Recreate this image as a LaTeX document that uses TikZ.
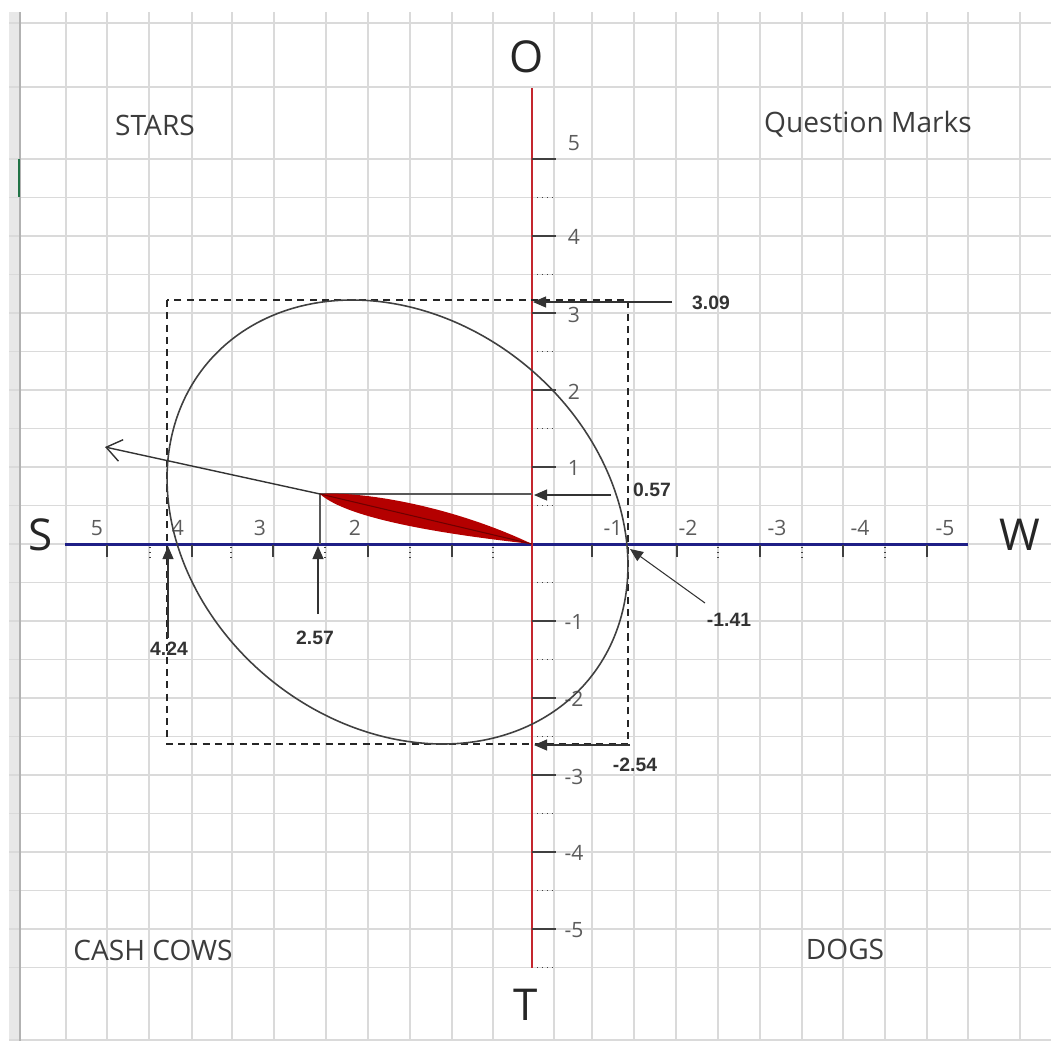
\documentclass[tikz,border=0pt]{standalone}
\usepackage{fontspec}
\setmainfont{Open Sans}
\newfontfamily\valfont{Liberation Sans}
\usetikzlibrary{arrows.meta}
\definecolor{gridc}{HTML}{DADADA}
\definecolor{bandc}{HTML}{E8E8E8}
\definecolor{axisred}{HTML}{C4262E}
\definecolor{axisblue}{HTML}{1F1F86}
\definecolor{leafred}{HTML}{B40000}
\definecolor{leafdark}{HTML}{6E0000}
\definecolor{ticktext}{HTML}{5C5C5C}
\definecolor{quadtext}{HTML}{3C3C3C}
\definecolor{xlgreen}{HTML}{217346}

\begin{document}
\begin{tikzpicture}[x=0.02cm, y=-0.02cm,
  gridline/.style={gridc, line width=0.9pt},
  quad/.style={font=\fontsize{16}{18}\selectfont, text=quadtext, inner sep=0pt},
  pole/.style={font=\fontsize{25}{27}\selectfont, text=black!85, inner sep=0pt},
  ticklab/.style={font=\fontsize{12}{14}\selectfont, text=ticktext, inner sep=0pt},
  val/.style={font=\valfont\bfseries\fontsize{11}{13}\selectfont, text=black!80, inner sep=0pt},
  major/.style={black!75, line width=0.9pt},
  minor/.style={black!75, dotted, line width=0.8pt},
  ptr/.style={-{Triangle[length=2.6mm, width=2.2mm]}, line width=0.6pt, black!80},
  frame/.style={dashed, dash pattern=on 4pt off 3pt, line width=0.7pt, black!85}]
\useasboundingbox (0,0) rectangle (1051,1041);
% sheet grid
\fill[bandc] (9,12) rectangle (20,1041);
\foreach \gx in {66,107,149,192,232,274,326,368,410,452,493,554,592,634,676,718,760,802,843,885,927,968,1020}
  \draw[gridline] (\gx,12) -- (\gx,1041);
\foreach \gy in {23,87,159,197.5,...,968,1040}
  \draw[gridline] (9,\gy) -- (1051,\gy);
\draw[black!30, line width=1pt] (20,12) -- (20,1041);
\draw[xlgreen, line width=1.2pt] (19,159) -- (19,197);

% quadrants
\node[quad] (stars) at (155,125) {STARS};
\node[quad] (qmarks) at (868,124) {Question Marks};
\node[quad] (cows) at (153,950) {CASH COWS};
\node[quad] (dogs) at (845,949) {DOGS};

% axes
\draw[axisblue, line width=1.7pt] (65,544) -- (968,544);
\draw[axisred, line width=1.6pt] (532,88) -- (532,968);
\node[pole] (S) at (41,535) {S};
\node[pole] (W) at (1020,535) {W};
\node[pole] (O) at (527,57) {O};
\node[pole] (T) at (526,1005) {T};

% ticks
\foreach \ty in {159,236,313,390,467,621,698,775,852,929}
  \draw[major] (532,\ty) -- (556,\ty);
\foreach \ty in {197.5,274.5,351.5,428.5,505.5,582.5,659.5,736.5,813.5,890.5,967.5}
  \draw[minor] (537,\ty) -- (556,\ty);
\foreach \tx in {107,192,273,368,452,592,677,760,843,927}
  \draw[major] (\tx,545) -- (\tx,557);
\foreach \tx in {150,231,325,410,493,718,802,885}
  \draw[minor] (\tx,547) -- (\tx,557);
\foreach \lab/\ty in {5/143,4/237,3/315,2/392,1/468,-1/622,-2/699,-3/777,-4/853,-5/930}
  \node[ticklab] at (574,\ty) {\lab};
\foreach \lab/\tx in {5/97,4/178,3/260,2/355,-1/613,-2/688,-3/777,-4/860,-5/945}
  \node[ticklab] at (\tx,528) {\lab};

% ellipse and its box
\draw[frame] (167,300) rectangle (628,744);
\draw[black!75, line width=0.9pt] plot[domain=0:360, samples=150, smooth cycle]
  ({397.5+247.8*cos(39.6)*cos(\x)-202.5*sin(39.6)*sin(\x)},
   {522+247.8*sin(39.6)*cos(\x)+202.5*cos(39.6)*sin(\x)});

% vector
\coordinate (orig) at (532,544);
\coordinate (tipv) at (320,494);
\coordinate (far) at (105,447);
\draw[black!65, line width=0.7pt] (tipv) -- (532,494);
\draw[black!65, line width=0.7pt] (tipv) -- (320,544);
\fill[leafred] (tipv) .. controls (360,491) and (450,505) .. (orig)
  .. controls (460,536) and (350,521) .. cycle;
\draw[leafdark, line width=0.6pt] (tipv) -- (orig);
\draw[-{Straight Barb[length=3mm, width=4.4mm]}, black!80, line width=0.8pt] (tipv) -- (far);

% value pointers
\node[val] (v309) at (711,303) {3.09};
\node[val] (v057) at (652,490) {0.57};
\node[val] (v141) at (729,620) {-1.41};
\node[val] (v254) at (635,765) {-2.54};
\node[val] (v424) at (169,649) {4.24};
\node[val] (v257) at (315,638) {2.57};
\coordinate (a309) at (672,302);
\coordinate (a057) at (611,495);
\coordinate (a141) at (705,603);
\coordinate (a254) at (630,745);
\coordinate (a424) at (168,638);
\coordinate (a257) at (318,614);
\draw[ptr] (a309) -- (533,302);
\draw[ptr] (a057) -- (534,495);
\draw[ptr] (a141) -- (630,549);
\draw[ptr] (a254) -- (534,745);
\draw[ptr] (a424) -- (168,546);
\draw[ptr] (a257) -- (318,546);
\end{tikzpicture}
\end{document}
